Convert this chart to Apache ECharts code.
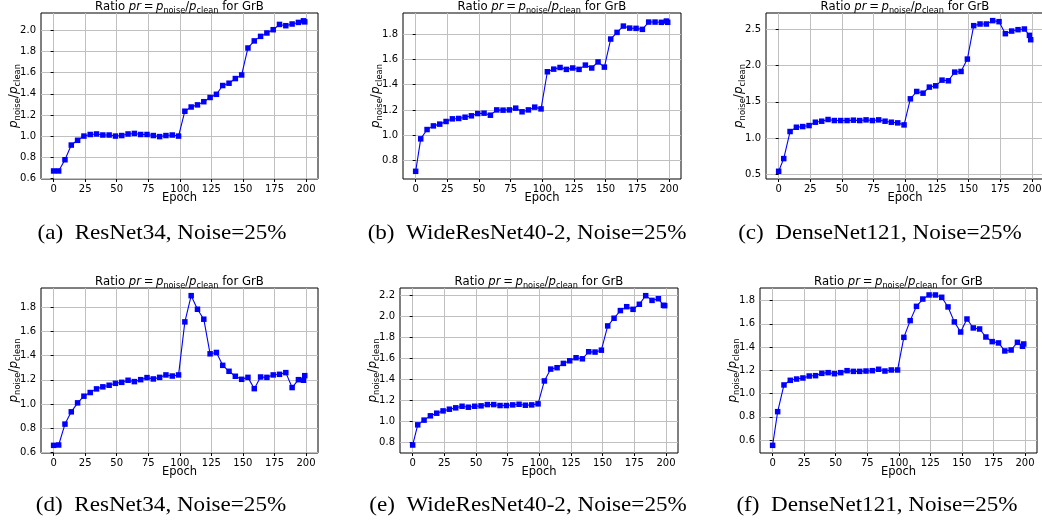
<!DOCTYPE html>
<html>
<head>
<meta charset="utf-8">
<script src="https://cdn.jsdelivr.net/npm/echarts@6/dist/echarts.min.js"></script>
<style>
html,body{margin:0;padding:0;background:#fff;}
#chart{width:1042px;height:523px;}
</style>
</head>
<body>
<div id="chart"></div>
<script>
// ---- data ----
const EPOCHS = [0,4,9,14,19,24,29,34,39,44,49,54,59,64,69,74,79,84,89,94,99,
  104,109,114,119,124,129,134,139,144,149,
  154,159,164,169,174,179,184,189,194,198,199];

const RESNET34_A = [0.67,0.67,0.776,0.915,0.96,1.00,1.015,1.02,1.01,1.01,1.00,1.005,1.02,1.025,1.015,1.015,1.005,0.995,1.005,1.01,1.00,
  1.235,1.275,1.295,1.325,1.365,1.395,1.478,1.50,1.544,1.578,
  1.833,1.90,1.943,1.975,2.006,2.056,2.044,2.06,2.075,2.09,2.08];
const WRN402_B = [0.712,0.970,1.044,1.073,1.087,1.108,1.129,1.132,1.142,1.153,1.171,1.174,1.158,1.20,1.198,1.20,1.214,1.185,1.20,1.222,1.208,
  1.503,1.524,1.537,1.522,1.533,1.522,1.556,1.533,1.581,1.540,
  1.763,1.816,1.866,1.850,1.848,1.840,1.898,1.898,1.896,1.906,1.896];
const DENSE121_C = [0.546,0.72,1.092,1.151,1.16,1.174,1.22,1.234,1.257,1.243,1.243,1.243,1.248,1.243,1.252,1.243,1.252,1.234,1.22,1.211,1.183,
  1.541,1.642,1.619,1.702,1.72,1.798,1.789,1.908,1.917,2.087,
  2.546,2.569,2.569,2.615,2.601,2.436,2.472,2.491,2.50,2.413,2.353];
const RESNET34_D = [0.66,0.663,0.835,0.936,1.01,1.065,1.095,1.125,1.142,1.155,1.171,1.179,1.196,1.185,1.201,1.218,1.207,1.22,1.24,1.231,1.24,
  1.677,1.893,1.781,1.699,1.414,1.425,1.319,1.27,1.229,1.204,
  1.22,1.127,1.223,1.22,1.24,1.245,1.259,1.136,1.201,1.196,1.234];
const WRN402_E = [0.775,0.967,1.012,1.053,1.078,1.10,1.116,1.129,1.144,1.135,1.144,1.148,1.16,1.16,1.151,1.151,1.157,1.163,1.154,1.157,1.167,
  1.385,1.498,1.511,1.552,1.577,1.606,1.596,1.663,1.66,1.678,
  1.909,1.982,2.055,2.092,2.067,2.115,2.197,2.152,2.168,2.105,2.102];
const DENSE121_F = [0.554,0.844,1.074,1.114,1.125,1.134,1.151,1.154,1.174,1.18,1.171,1.18,1.197,1.191,1.191,1.194,1.197,1.209,1.194,1.203,1.203,
  1.484,1.628,1.751,1.814,1.849,1.849,1.829,1.746,1.617,1.53,
  1.642,1.565,1.556,1.487,1.447,1.436,1.367,1.375,1.441,1.407,1.427];

const X_TICKS = [0,25,50,75,100,125,150,175,200];
const Y_TICKS_A = [0.6,0.8,1.0,1.2,1.4,1.6,1.8,2.0];
const Y_TICKS_B = [0.8,1.0,1.2,1.4,1.6,1.8];
const Y_TICKS_C = [0.5,1.0,1.5,2.0,2.5];
const Y_TICKS_D = [0.6,0.8,1.0,1.2,1.4,1.6,1.8];
const Y_TICKS_E = [0.8,1.0,1.2,1.4,1.6,1.8,2.0,2.2];
const Y_TICKS_F = [0.6,0.8,1.0,1.2,1.4,1.6,1.8];

const CAPTIONS = [
  '(a)  ResNet34, Noise=25%',
  '(b)  WideResNet40-2, Noise=25%',
  '(c)  DenseNet121, Noise=25%',
  '(d)  ResNet34, Noise=25%',
  '(e)  WideResNet40-2, Noise=25%',
  '(f)  DenseNet121, Noise=25%'
];

// ---- layout ----
const panels = [
  {data: RESNET34_A, yt: Y_TICKS_A, ymin: 0.594, ymax: 2.164, g: {left: 41, top: 13, width: 277, height: 166}, cap: [162, 233]},
  {data: WRN402_B,   yt: Y_TICKS_B, ymin: 0.651, ymax: 1.970, g: {left: 403, top: 13, width: 278, height: 166}, cap: [527, 233]},
  {data: DENSE121_C, yt: Y_TICKS_C, ymin: 0.44,  ymax: 2.72,  g: {left: 766, top: 13, width: 278, height: 166}, cap: [880, 233]},
  {data: RESNET34_D, yt: Y_TICKS_D, ymin: 0.597, ymax: 1.956, g: {left: 41, top: 288, width: 277, height: 165}, cap: [161, 505]},
  {data: WRN402_E,   yt: Y_TICKS_E, ymin: 0.699, ymax: 2.27,  g: {left: 400, top: 288, width: 278, height: 165}, cap: [528, 505]},
  {data: DENSE121_F, yt: Y_TICKS_F, ymin: 0.488, ymax: 1.909, g: {left: 760, top: 288, width: 277, height: 165}, cap: [877, 505]}
];

const FONT = 'DejaVu Sans';
const mctx = document.createElement('canvas').getContext('2d');
function fontStr(kind, size) {
  return (kind === 'i' ? 'italic ' : '') + size + 'px "' + FONT + '"';
}
// Lay out a mathtext-like label: tokens of kind n (normal), i (italic), s (subscript), g (gap in em)
function mathGroup(tokens, F, x, y, rotation) {
  const SUB = 0.7 * F;
  let w = 0;
  const items = tokens.map(tk => {
    if (tk.k === 'g') { const it = {gap: tk.v * F, x: w}; w += it.gap; return it; }
    const size = tk.k === 's' ? SUB : F;
    const font = fontStr(tk.k, size);
    mctx.font = font;
    const tw = mctx.measureText(tk.t).width;
    const it = {t: tk.t, font: font, x: w, dy: tk.k === 's' ? 0.3 * F : 0};
    w += tw;
    return it;
  });
  const x0 = -w / 2;
  const children = items.filter(it => it.t !== undefined).map(it => ({
    type: 'text', x: x0 + it.x, y: it.dy,
    style: {text: it.t, font: it.font, fill: '#000', align: 'left', verticalAlign: 'middle'}
  }));
  return {type: 'group', x: x, y: y, rotation: rotation || 0, z: 10, children: children};
}

const TITLE_TOKENS = [
  {k: 'n', t: 'Ratio '}, {k: 'i', t: 'pr'}, {k: 'g', v: 0.22}, {k: 'n', t: '='}, {k: 'g', v: 0.22},
  {k: 'i', t: 'p'}, {k: 's', t: 'noise'}, {k: 'n', t: '/'}, {k: 'i', t: 'p'}, {k: 's', t: 'clean'},
  {k: 'n', t: ' for GrB'}
];
const YLABEL_TOKENS = [
  {k: 'i', t: 'p'}, {k: 's', t: 'noise'}, {k: 'n', t: '/'}, {k: 'i', t: 'p'}, {k: 's', t: 'clean'}
];

const grids = [], xAxes = [], yAxes = [], series = [], graphics = [];

panels.forEach((p, i) => {
  grids.push(Object.assign({show: true, borderColor: '#000', borderWidth: 1, backgroundColor: '#fff', outerBoundsMode: 'none', containLabel: false}, p.g));
  xAxes.push({
    type: 'value', gridIndex: i, min: -10, max: 209.5,
    axisLine: {show: false},
    axisTick: {show: true, inside: false, length: 3, lineStyle: {color: '#000', width: 1}, customValues: X_TICKS},
    axisLabel: {show: true, margin: 5, fontFamily: FONT, fontSize: 10, color: '#000', customValues: X_TICKS, formatter: v => String(Math.round(v))},
    splitLine: {show: true, lineStyle: {color: '#c0c0c0', width: 1}}
  });
  yAxes.push({
    type: 'value', gridIndex: i, min: p.ymin, max: p.ymax,
    axisLine: {show: false},
    axisTick: {show: true, inside: false, length: 3, lineStyle: {color: '#000', width: 1}, customValues: p.yt},
    axisLabel: {show: true, margin: 5, fontFamily: FONT, fontSize: 10, color: '#000', customValues: p.yt, formatter: v => v.toFixed(1)},
    splitLine: {show: true, lineStyle: {color: '#c0c0c0', width: 1}}
  });
  series.push({
    type: 'line', xAxisIndex: i, yAxisIndex: i,
    data: EPOCHS.map((e, k) => [e, p.data[k]]),
    symbol: 'rect', symbolSize: 5.5, showAllSymbol: true,
    lineStyle: {color: '#0000ff', width: 1.1},
    itemStyle: {color: '#0000ff'},
    animation: false, silent: true
  });
  const cx = p.g.left + p.g.width / 2;
  const cy = p.g.top + p.g.height / 2;
  graphics.push(mathGroup(TITLE_TOKENS, 11.7, cx, p.g.top - 6, 0));
  graphics.push(mathGroup(YLABEL_TOKENS, 12, p.g.left - 27, cy, Math.PI / 2));
  graphics.push({
    type: 'text', x: cx, y: p.g.top + p.g.height + 19, z: 10,
    style: {text: 'Epoch', align: 'center', verticalAlign: 'middle', fontFamily: FONT, fontSize: 11.5, fill: '#000'}
  });
  graphics.push({
    type: 'text', x: p.cap[0], y: p.cap[1], scaleX: 1.1, z: 10,
    style: {text: CAPTIONS[i], align: 'center', verticalAlign: 'middle', fontFamily: 'Liberation Serif', fontSize: 21, fill: '#000'}
  });
});

const chart = echarts.init(document.getElementById('chart'), null, {renderer: 'canvas'});
chart.setOption({
  backgroundColor: '#fff',
  animation: false,
  grid: grids,
  xAxis: xAxes,
  yAxis: yAxes,
  series: series,
  graphic: graphics
});
</script>
</body>
</html>
